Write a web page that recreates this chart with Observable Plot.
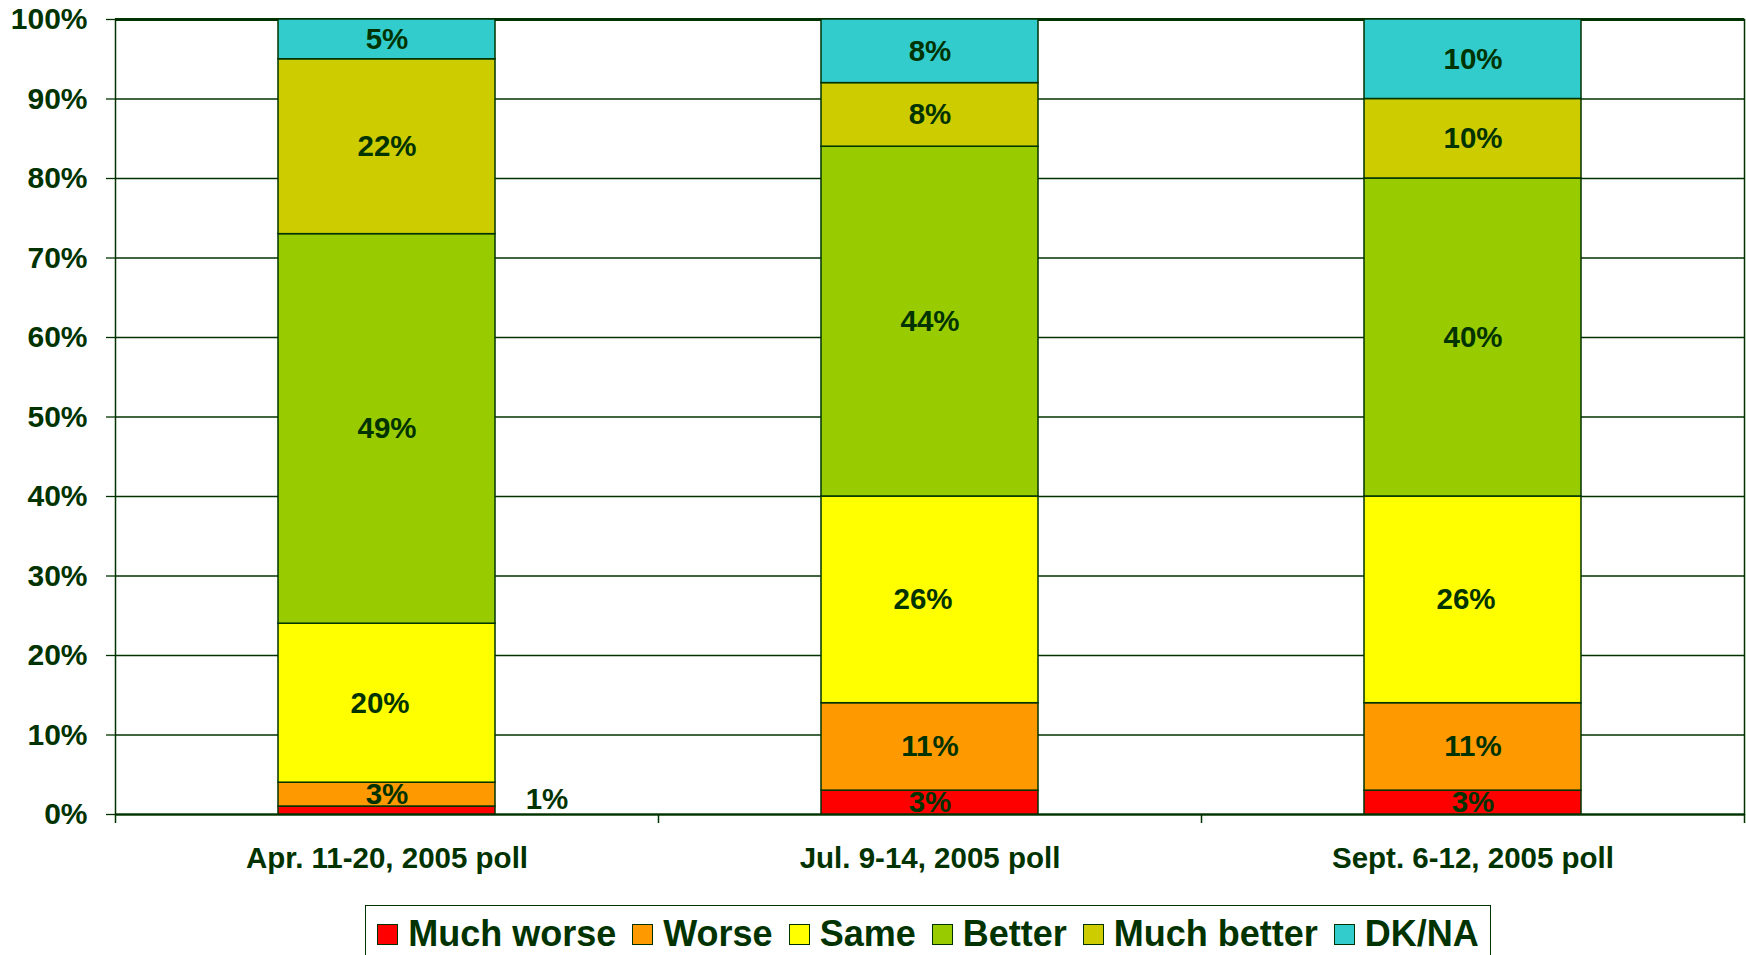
<!DOCTYPE html>
<html><head><meta charset="utf-8">
<script src="https://cdn.jsdelivr.net/npm/d3@7"></script>
<script src="https://cdn.jsdelivr.net/npm/@observablehq/plot@0.6"></script>
<style>
body{margin:0;background:#fff;font-family:"Liberation Sans",Arial,sans-serif;}
#chart svg{display:block}
.legend{position:absolute;left:365px;top:905px;width:1126px;height:64px;border:1.5px solid #003300;box-sizing:border-box;display:flex;align-items:flex-start;justify-content:center;padding-top:7px;color:#003300;font-weight:bold;font-size:36px;font-family:"Liberation Sans",Arial,sans-serif;}
.legend .item{display:flex;align-items:center;margin:0 8px;}
.legend .sw{width:21px;height:21px;border:1.5px solid #003300;box-sizing:border-box;margin-right:10px;}
</style>
</head><body>
<div id="chart"></div>
<div class="legend" id="legend"></div>
<script>
const polls = ["Apr. 11-20, 2005 poll", "Jul. 9-14, 2005 poll", "Sept. 6-12, 2005 poll"];
const categories = ["Much worse", "Worse", "Same", "Better", "Much better", "DK/NA"];
const colors = ["#FF0000", "#FF9900", "#FFFF00", "#99CC00", "#CCCC00", "#33CCCC"];
const aprValues = [1, 3, 20, 49, 22, 5];
const julValues = [3, 11, 26, 44, 8, 8];
const sepValues = [3, 11, 26, 40, 10, 10];
const yTicks = [0, 10, 20, 30, 40, 50, 60, 70, 80, 90, 100];

const seriesByPoll = [aprValues, julValues, sepValues];
const rows = [];
polls.forEach((p, i) => categories.forEach((c, j) => rows.push({poll: p, category: c, value: seriesByPoll[i][j]})));

const ink = "#003300";
const W = 1746, H = 900, mL = 115, mR = 2, mT = 19, mB = 86;
const step = (W - mL - mR) / polls.length;
const font = "Liberation Sans, Arial, sans-serif";

const isOutside = d => d.poll === polls[0] && d.category === "Much worse";

const chart = Plot.plot({
  width: W, height: H,
  marginLeft: mL, marginRight: mR, marginTop: mT, marginBottom: mB,
  style: {fontFamily: font, color: ink, background: "#fff"},
  x: {domain: polls, paddingInner: 0.6, paddingOuter: 0.3, label: null},
  y: {domain: [0, 100], label: null},
  color: {domain: categories, range: colors},
  marks: [
    Plot.ruleY(yTicks, {y: d => d, stroke: ink, strokeWidth: 1.3}),
    Plot.ruleY([100], {y: d => d, stroke: ink, strokeWidth: 3}),
    Plot.ruleY([0], {y: d => d, stroke: ink, strokeWidth: 2}),
    Plot.frame({stroke: ink, strokeWidth: 1.5}),
    Plot.axisY({ticks: yTicks, tickFormat: d => d + "%", tickSize: 9, tickPadding: 19, fontSize: 30, fontWeight: "bold", fill: ink, stroke: ink, strokeWidth: 1.3}),
    Plot.axisX({tickSize: 0, tickPadding: 33, fontSize: 29.5, fontWeight: "bold", fill: ink}),
    Plot.ruleX(polls, {x: d => d, dx: step / 2, y1: 0, y2: 0, insetBottom: -9, stroke: ink, strokeWidth: 1.5}),
    Plot.ruleX([polls[0]], {x: d => d, dx: -step / 2, y1: 0, y2: 0, insetBottom: -9, stroke: ink, strokeWidth: 1.5}),
    Plot.barY(rows, Plot.stackY({x: "poll", y: "value", fill: "category", order: null, stroke: ink, strokeWidth: 1.5})),
    Plot.text(rows, Plot.stackY({x: "poll", y: "value", order: null,
      text: d => (isOutside(d) || d.category === "Same") ? "" : d.value + "%",
      fill: ink, fontSize: 29.5, fontWeight: "bold", fontFamily: font})),
    Plot.text(rows, Plot.stackY({x: "poll", y: "value", order: null, dx: -7,
      text: d => d.category === "Same" ? d.value + "%" : "",
      fill: ink, fontSize: 29.5, fontWeight: "bold", fontFamily: font})),
    Plot.text(rows.filter(isOutside), {x: "poll", y: "value", dx: 160, dy: -7,
      text: d => d.value + "%", fill: ink, fontSize: 29.5, fontWeight: "bold", fontFamily: font})
  ]
});
document.getElementById("chart").appendChild(chart);

const legend = document.getElementById("legend");
categories.forEach((c, i) => {
  const it = document.createElement("div");
  it.className = "item";
  const sw = document.createElement("div");
  sw.className = "sw";
  sw.style.background = colors[i];
  const t = document.createElement("span");
  t.textContent = c;
  it.appendChild(sw); it.appendChild(t);
  legend.appendChild(it);
});
</script>
</body></html>
